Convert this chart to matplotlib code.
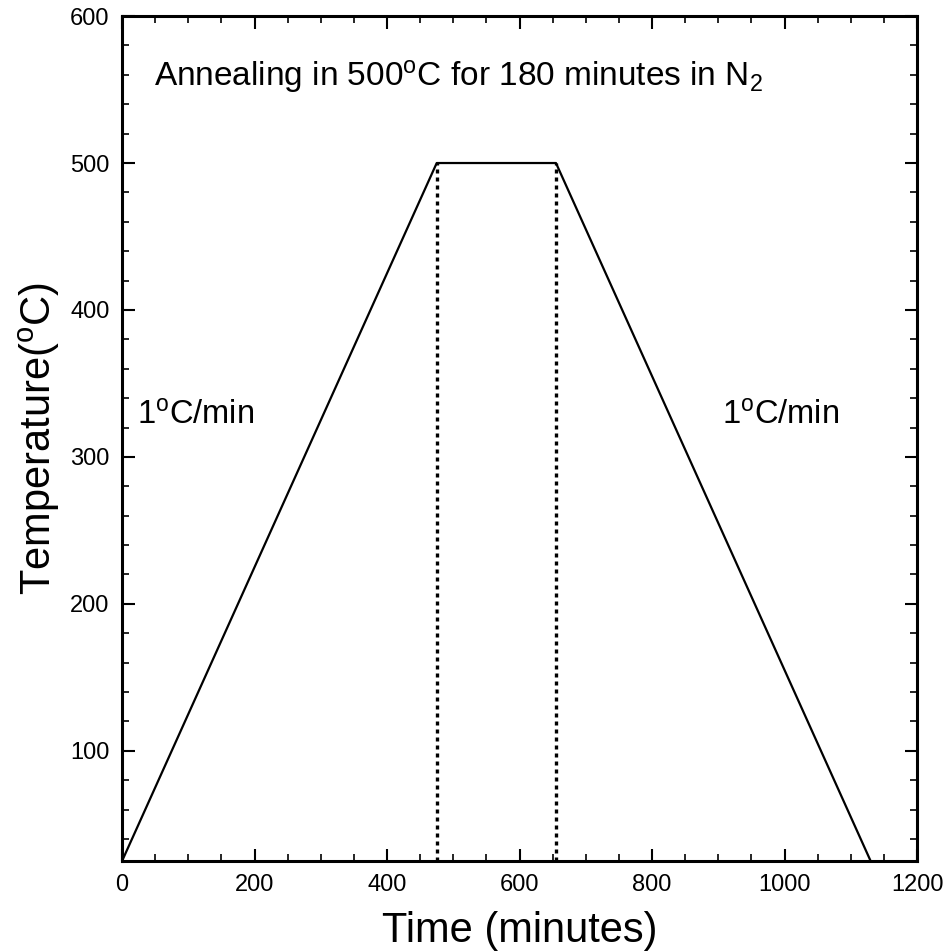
import matplotlib
matplotlib.use('Agg')
import matplotlib.pyplot as plt
from matplotlib.ticker import MultipleLocator

plt.rcParams['font.family'] = ['Liberation Sans', 'DejaVu Sans']
plt.rcParams['mathtext.fontset'] = 'custom'
plt.rcParams['mathtext.rm'] = 'Liberation Sans'
plt.rcParams['mathtext.it'] = 'Liberation Sans'

# Annealing profile (minutes, degC)
time_min = [0, 475, 655, 1130]
temp_c = [25, 500, 500, 25]
hold_start = 475
hold_end = 655
hold_temp = 500

fig = plt.figure(figsize=(9.49, 9.51), dpi=100)
ax = fig.add_axes([0.1286, 0.0946, 0.8377, 0.8885])

ax.plot(time_min, temp_c, color='black', linewidth=1.6)

# Dotted markers for the holding period
for x in (hold_start, hold_end):
    ax.plot([x, x], [25, hold_temp], color='black', linestyle=(0, (1.2, 1.2)), linewidth=2.4)

ax.set_xlim(0, 1200)
ax.set_ylim(25, 600)
ax.xaxis.set_major_locator(MultipleLocator(200))
ax.xaxis.set_minor_locator(MultipleLocator(50))
ax.set_yticks([100, 200, 300, 400, 500, 600])
ax.yaxis.set_minor_locator(MultipleLocator(20))

ax.tick_params(which='both', direction='in', top=True, right=True, labelsize=17, color='black')
ax.tick_params(which='major', length=9, width=1.5, pad=9)
ax.tick_params(which='minor', length=5, width=1.2)
for sp in ax.spines.values():
    sp.set_linewidth(2.2)

ax.set_xlabel('Time (minutes)', fontsize=30, labelpad=11)
ax.set_ylabel(r'Temperature($^{\rm o}$C)', fontsize=30, labelpad=6)

ax.text(48, 553, r'Annealing in 500$^{\rm o}$C for 180 minutes in N$_{\rm 2}$', fontsize=24)
ax.text(23, 328, r'1$^{\rm o}$C/min', fontsize=23.5, va='center')
ax.text(906, 328, r'1$^{\rm o}$C/min', fontsize=23.5, va='center')

plt.savefig('out.png', dpi=100)
plt.close()
